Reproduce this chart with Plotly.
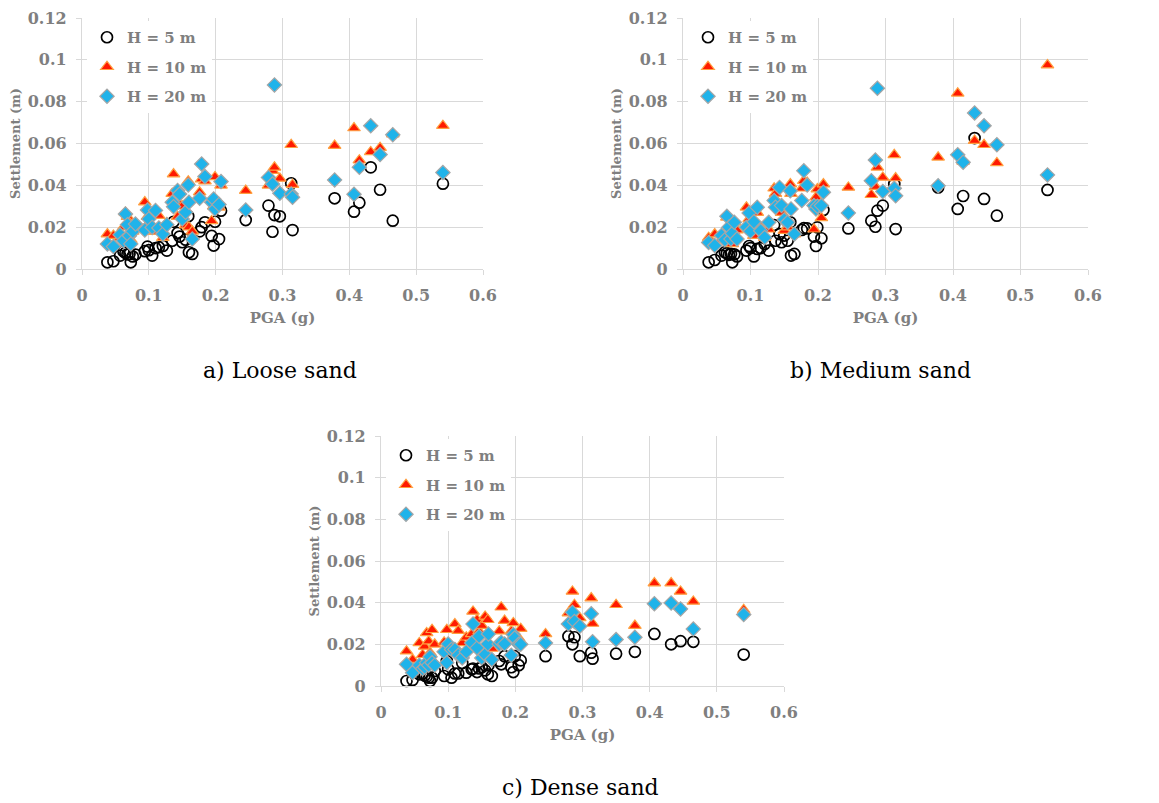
import plotly.graph_objects as go

# Shared PGA values (g)
pga = [0.038, 0.047, 0.057, 0.062, 0.065, 0.068, 0.071, 0.073, 0.076, 0.080,
       0.094, 0.098, 0.100, 0.105, 0.110, 0.115, 0.121, 0.127, 0.135, 0.137,
       0.143, 0.146, 0.150, 0.155, 0.159, 0.160, 0.165, 0.176, 0.179, 0.184,
       0.194, 0.197, 0.199, 0.205, 0.208, 0.245, 0.279, 0.285, 0.288, 0.296,
       0.313, 0.315, 0.350, 0.378, 0.407, 0.415, 0.432, 0.446, 0.465, 0.540]

# a) Loose sand
loose_h5 = [0.0032, 0.0037, 0.0064, 0.0085, 0.0078, 0.0070, 0.0072, 0.0032, 0.0060, 0.0069,
            0.0085, 0.0107, 0.0090, 0.0064, 0.0100, 0.0104, 0.0110, 0.0088, 0.0135, 0.0226,
            0.0172, 0.0155, 0.0128, 0.0140, 0.0252, 0.0080, 0.0072, 0.0180, 0.0200, 0.0223,
            0.0158, 0.0112, 0.0226, 0.0143, 0.0279, 0.0234, 0.0303, 0.0178, 0.0258, 0.0252,
            0.0410, 0.0186, None, 0.0338, 0.0274, 0.0317, 0.0486, 0.0379, 0.0231, 0.0408]
loose_h10 = [0.0167, 0.0160, 0.0150, 0.0200, 0.0270, 0.0250, 0.0220, 0.0140, 0.0180, 0.0200,
             0.0320, 0.0250, 0.0220, 0.0180, 0.0180, 0.0255, 0.0150, 0.0220, 0.0360, 0.0454,
             0.0250, 0.0310, 0.0300, 0.0210, 0.0420, 0.0200, 0.0180, 0.0367, 0.0430, 0.0420,
             0.0230, 0.0300, 0.0440, 0.0295, 0.0400, 0.0375, 0.0400, 0.0470, 0.0486, 0.0433,
             0.0594, 0.0403, None, 0.0590, 0.0674, 0.0520, 0.0560, 0.0580, 0.0645, 0.0685]
loose_h20 = [0.0120, 0.0107, 0.0164, 0.0135, 0.0263, 0.0212, 0.0159, 0.0120, 0.0180, 0.0215,
             0.0186, 0.0282, 0.0239, 0.0199, 0.0280, 0.0196, 0.0167, 0.0212, 0.0319, 0.0298,
             0.0375, 0.0358, 0.0239, 0.0271, 0.0402, 0.0319, 0.0143, 0.0338, 0.0502, 0.0442,
             0.0319, 0.0335, 0.0287, 0.0308, 0.0418, 0.0282, 0.0438, 0.0406, 0.0880, 0.0362,
             0.0359, 0.0343, None, 0.0426, 0.0357, 0.0486, 0.0685, 0.0547, 0.0642, 0.0461]

# b) Medium sand
medium_h5 = [0.0032, 0.0043, 0.0064, 0.0080, 0.0075, 0.0068, 0.0072, 0.0032, 0.0070, 0.0060,
             0.0088, 0.0110, 0.0100, 0.0060, 0.0096, 0.0100, 0.0120, 0.0088, 0.0210, 0.0135,
             0.0167, 0.0128, 0.0160, 0.0135, 0.0223, 0.0064, 0.0072, 0.0187, 0.0195, 0.0194,
             0.0155, 0.0110, 0.0199, 0.0147, 0.0282, 0.0194, 0.0231, 0.0202, 0.0279, 0.0303,
             0.0406, 0.0191, None, 0.0390, 0.0287, 0.0349, 0.0626, 0.0335, 0.0255, 0.0378]
medium_h10 = [0.0150, 0.0167, 0.0140, 0.0150, 0.0247, 0.0200, 0.0130, 0.0120, 0.0223, 0.0186,
              0.0295, 0.0240, 0.0200, 0.0160, 0.0270, 0.0200, 0.0150, 0.0190, 0.0386, 0.0360,
              0.0300, 0.0270, 0.0183, 0.0200, 0.0406, 0.0360, 0.0167, 0.0386, 0.0422, 0.0414,
              0.0190, 0.0343, 0.0382, 0.0244, 0.0406, 0.0390, 0.0355, 0.0394, 0.0486, 0.0438,
              0.0546, 0.0435, None, 0.0534, 0.0840, 0.0514, 0.0614, 0.0594, 0.0507, 0.0975]
medium_h20 = [0.0127, 0.0112, 0.0160, 0.0140, 0.0252, 0.0200, 0.0143, 0.0170, 0.0223, 0.0143,
              0.0200, 0.0268, 0.0180, 0.0226, 0.0295, 0.0183, 0.0151, 0.0223, 0.0327, 0.0295,
              0.0390, 0.0303, 0.0236, 0.0223, 0.0374, 0.0287, 0.0167, 0.0327, 0.0470, 0.0401,
              0.0303, 0.0287, 0.0300, 0.0303, 0.0367, 0.0268, 0.0422, 0.0521, 0.0864, 0.0371,
              0.0386, 0.0350, None, 0.0398, 0.0546, 0.0510, 0.0746, 0.0685, 0.0594, 0.0450]

# c) Dense sand
dense_h5 = [0.0024, 0.0029, 0.0056, 0.0060, 0.0050, 0.0045, 0.0040, 0.0024, 0.0040, 0.0072,
            0.0048, 0.0120, 0.0080, 0.0040, 0.0060, 0.0060, 0.0110, 0.0064, 0.0080, 0.0084,
            0.0067, 0.0084, 0.0090, 0.0075, 0.0056, 0.0100, 0.0048, 0.0120, 0.0104, 0.0143,
            0.0090, 0.0067, 0.0143, 0.0100, 0.0123, 0.0143, 0.0239, 0.0200, 0.0234, 0.0143,
            0.0160, 0.0131, 0.0155, 0.0164, 0.0250, None, 0.0200, 0.0215, 0.0212, 0.0151]
dense_h10 = [0.0167, 0.0127, 0.0207, 0.0150, 0.0190, 0.0255, 0.0215, 0.0160, 0.0270, 0.0200,
             0.0210, 0.0270, 0.0200, 0.0180, 0.0298, 0.0266, 0.0207, 0.0234, 0.0250, 0.0358,
             0.0318, 0.0263, 0.0290, 0.0334, 0.0318, 0.0200, 0.0180, 0.0263, 0.0378, 0.0314,
             0.0263, 0.0303, 0.0240, 0.0230, 0.0275, 0.0250, 0.0350, 0.0454, 0.0390, 0.0327,
             0.0422, 0.0300, 0.0390, 0.0290, 0.0494, None, 0.0494, 0.0454, 0.0406, 0.0366]
dense_h20 = [0.0104, 0.0064, 0.0100, 0.0083, 0.0090, 0.0112, 0.0100, 0.0140, 0.0112, 0.0100,
             0.0164, 0.0112, 0.0202, 0.0175, 0.0175, 0.0148, 0.0135, 0.0164, 0.0207, 0.0298,
             0.0183, 0.0239, 0.0135, 0.0151, 0.0202, 0.0250, 0.0127, 0.0202, 0.0210, 0.0202,
             0.0148, 0.0247, 0.0230, 0.0200, 0.0200, 0.0207, 0.0298, 0.0354, 0.0310, 0.0287,
             0.0347, 0.0212, 0.0223, 0.0234, 0.0395, None, 0.0398, 0.0370, 0.0274, 0.0343]

series_names = ["H = 5 m", "H = 10 m", "H = 20 m"]
captions = ["a) Loose sand", "b) Medium sand", "c) Dense sand"]

FONT = "DejaVu Serif"
GRAY = "#7f7f7f"
GRID = "#d9d9d9"
W, H = 1159, 803

panels = [
    dict(data=[loose_h5, loose_h10, loose_h20], x0=82, x1=483, ytop=18, ybot=269,
         cap=(280, 370)),
    dict(data=[medium_h5, medium_h10, medium_h20], x0=683, x1=1088, ytop=18, ybot=269,
         cap=(880, 370)),
    dict(data=[dense_h5, dense_h10, dense_h20], x0=381, x1=784, ytop=436, ybot=686,
         cap=(580, 787)),
]

styles = [
    dict(symbol="circle-open", size=11, color="black", line=dict(width=1.7, color="black")),
    dict(symbol="triangle-up", size=11, color="#ff1a00", line=dict(width=1.2, color="#ffa040")),
    dict(symbol="diamond", size=11, color="#1fb3ea", line=dict(width=1.2, color="#a6a6a6")),
]

fig = go.Figure()
layout = dict(
    width=W, height=H, paper_bgcolor="white", plot_bgcolor="white",
    margin=dict(l=0, r=0, t=0, b=0), showlegend=True,
    font=dict(family=FONT, color=GRAY),
)
annotations = []

for i, p in enumerate(panels):
    sfx = "" if i == 0 else str(i + 1)
    legname = "legend" + sfx
    for j in range(3):
        fig.add_trace(go.Scatter(
            x=pga, y=p["data"][j], mode="markers", name=series_names[j],
            marker=styles[j], xaxis="x" + sfx, yaxis="y" + sfx,
            legend=legname, legendgroup=f"p{i}s{j}", cliponaxis=False,
        ))
    xd = [p["x0"] / W, p["x1"] / W]
    yd = [1 - p["ybot"] / H, 1 - p["ytop"] / H]
    axcommon = dict(showgrid=True, gridcolor=GRID, gridwidth=1.3, showline=True,
                    linecolor=GRID, linewidth=1.3, ticks="outside", ticklen=5,
                    tickcolor=GRID, zeroline=False, automargin=False,
                    tickfont=dict(family=FONT, size=16, color=GRAY, weight="bold"))
    layout["xaxis" + sfx] = dict(
        domain=xd, range=[0, 0.6], dtick=0.1, tick0=0, anchor="y" + sfx,
        ticklabelstandoff=7,
        title=dict(text="PGA (g)", standoff=8,
                   font=dict(family=FONT, size=15, color=GRAY, weight="bold")),
        **axcommon)
    layout["yaxis" + sfx] = dict(
        domain=yd, range=[0, 0.12], dtick=0.02, tick0=0, anchor="x" + sfx,
        ticklabelstandoff=6,
        title=dict(text="Settlement (m)", standoff=4,
                   font=dict(family=FONT, size=13, color=GRAY, weight="bold")),
        **axcommon)
    layout[legname] = dict(
        x=(p["x0"] + 5) / W, y=1 - (p["ytop"] + 3) / H, xanchor="left", yanchor="top",
        bgcolor="white", borderwidth=0, tracegroupgap=7, itemwidth=30,
        font=dict(family=FONT, size=15, color=GRAY, weight="bold"),
    )
    annotations.append(dict(
        text=captions[i], xref="paper", yref="paper", x=p["cap"][0] / W,
        y=1 - p["cap"][1] / H, xanchor="center", yanchor="middle", showarrow=False,
        font=dict(family=FONT, size=22, color="black")))

layout["annotations"] = annotations
fig.update_layout(**layout)
fig.write_html("out.html", config={"displayModeBar": False},
               post_script="document.body.style.margin='0';")
